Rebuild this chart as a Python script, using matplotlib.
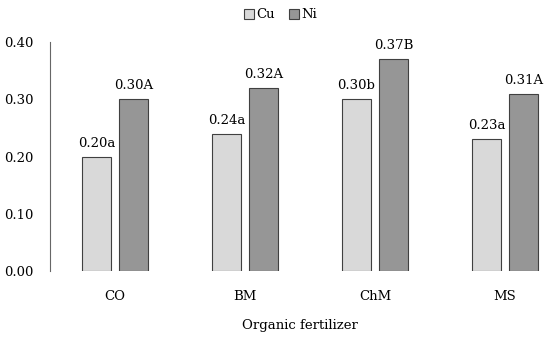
import numpy as np
from matplotlib import pyplot as plt

plt.rcParams['font.family'] = ['DejaVu Serif']

fertilizers = ['CO', 'BM', 'ChM', 'MS']
cu = [0.20, 0.24, 0.30, 0.23]
ni = [0.30, 0.32, 0.37, 0.31]
cu_labels = ['0.20a', '0.24a', '0.30b', '0.23a']
ni_labels = ['0.30A', '0.32A', '0.37B', '0.31A']

fig = plt.figure(figsize=(5.5, 3.41), dpi=100)
ax = fig.add_axes([50/550, 70/341, 500/550, 229/341])

x = np.arange(len(fertilizers))
w = 0.223
off = 0.142
b1 = ax.bar(x - off, cu, w, color='#d9d9d9', edgecolor='#404040', linewidth=0.8, label='Cu')
b2 = ax.bar(x + off, ni, w, color='#969696', edgecolor='#404040', linewidth=0.8, label='Ni')

for bars, labs in ((b1, cu_labels), (b2, ni_labels)):
    for b, t in zip(bars, labs):
        ax.text(b.get_x() + b.get_width()/2, b.get_height() + 0.012, t,
                ha='center', va='bottom', fontsize=9.5)

ax.set_xlim(-0.5, 3.346)
ax.set_ylim(0, 0.40)
ax.set_yticks([0, 0.1, 0.2, 0.3, 0.4])
ax.set_yticklabels(['0.00', '0.10', '0.20', '0.30', '0.40'])
ax.set_xticks(x)
ax.set_xticklabels(fertilizers)
ax.tick_params(length=0, labelsize=9.5)
ax.tick_params(axis='x', pad=14)
ax.tick_params(axis='y', pad=12)
for s in ['top', 'right', 'bottom']:
    ax.spines[s].set_visible(False)
ax.spines['left'].set_color('#666666')
ax.set_xlabel('Organic fertilizer', fontsize=9.5, labelpad=11)

fig.legend(loc='upper center', bbox_to_anchor=(0.51, 1.01), ncol=2, frameon=False,
           fontsize=9.5, handlelength=0.8, handleheight=0.8, handletextpad=0.2,
           columnspacing=1.0)

fig.savefig('out.png')
